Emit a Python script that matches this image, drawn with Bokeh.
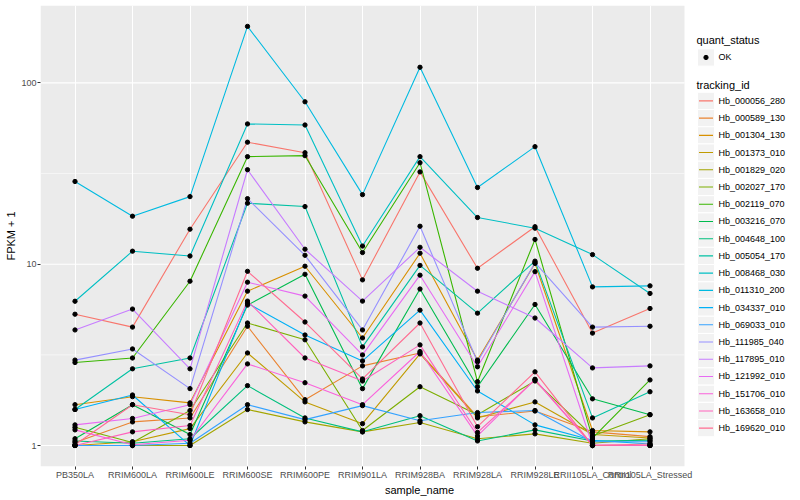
from bokeh.plotting import figure
from bokeh.models import Range1d, FixedTicker, NumeralTickFormatter, CustomJSTickFormatter, LinearScale
from bokeh.embed import file_html
from bokeh.resources import INLINE
from bokeh.core.properties import value

samples = ["PB350LA", "RRIM600LA", "RRIM600LE", "RRIM600SE", "RRIM600PE", "RRIM901LA",
           "RRIM928BA", "RRIM928LA", "RRIM928LE", "RRII105LA_Control", "RRII105LA_Stressed"]

tracking_ids = ["Hb_000056_280", "Hb_000589_130", "Hb_001304_130", "Hb_001373_010", "Hb_001829_020",
                "Hb_002027_170", "Hb_002119_070", "Hb_003216_070", "Hb_004648_100", "Hb_005054_170",
                "Hb_008468_030", "Hb_011310_200", "Hb_034337_010", "Hb_069033_010", "Hb_111985_040",
                "Hb_117895_010", "Hb_121992_010", "Hb_151706_010", "Hb_163658_010", "Hb_169620_010"]

# FPKM + 1 per sample (order of `samples`)
hb_000056_280 = [5.3, 4.5, 15.6, 47.1, 41.2, 8.2, 32.3, 9.5, 16.1, 4.17, 5.7]
hb_000589_130 = [1.04, 1.35, 1.42, 4.55, 1.79, 2.75, 3.24, 1.44, 1.55, 1.19, 1.12]
hb_001304_130 = [1.68, 1.86, 1.72, 7.1, 9.75, 3.92, 11.5, 2.96, 10.1, 1.21, 1.19]
hb_001373_010 = [1.0, 1.05, 1.24, 3.24, 1.74, 1.32, 3.2, 1.42, 1.74, 1.15, 1.1]
hb_001829_020 = [1.0, 1.0, 1.0, 1.58, 1.35, 1.19, 1.34, 1.09, 1.16, 1.03, 1.09]
hb_002027_170 = [1.26, 1.04, 1.56, 4.74, 3.83, 1.21, 2.11, 1.48, 2.27, 1.13, 1.48]
hb_002119_070 = [2.87, 3.04, 8.06, 39.2, 39.7, 11.6, 36.3, 2.25, 13.7, 1.1, 2.3]
hb_003216_070 = [1.09, 1.68, 1.15, 5.95, 8.8, 2.06, 7.3, 2.11, 6.0, 1.81, 1.48]
hb_004648_100 = [1.06, 1.03, 1.09, 2.14, 1.42, 1.19, 1.46, 1.06, 1.22, 1.06, 1.07]
hb_005054_170 = [1.58, 2.65, 3.04, 21.7, 20.8, 3.5, 9.85, 5.37, 10.4, 1.42, 1.98]
hb_008468_030 = [6.25, 11.8, 11.1, 59.4, 58.6, 12.6, 39.2, 18.1, 15.8, 11.3, 6.9]
hb_011310_200 = [28.6, 18.4, 23.6, 205.0, 78.7, 24.2, 122.0, 26.5, 44.5, 7.5, 7.6]
hb_034337_010 = [1.58, 1.9, 1.0, 6.1, 4.07, 2.93, 5.58, 2.0, 1.3, 1.07, 1.02]
hb_069033_010 = [1.0, 1.0, 1.03, 1.68, 1.39, 1.66, 1.37, 1.52, 1.56, 1.05, 1.05]
hb_111985_040 = [2.96, 3.41, 2.06, 23.0, 11.2, 4.34, 16.2, 2.9, 10.2, 4.5, 4.55]
hb_117895_010 = [4.34, 5.66, 2.65, 33.2, 12.1, 6.26, 12.4, 7.1, 5.05, 2.68, 2.75]
hb_121992_010 = [1.30, 1.41, 1.68, 7.96, 6.67, 3.16, 8.7, 2.72, 9.1, 1.0, 1.0]
hb_151706_010 = [1.22, 1.01, 1.07, 2.82, 2.22, 1.68, 3.3, 1.13, 2.32, 1.01, 1.0]
hb_163658_010 = [1.0, 1.19, 1.29, 6.26, 3.04, 2.27, 3.59, 1.18, 2.3, 1.0, 1.0]
hb_169620_010 = [1.01, 1.68, 1.48, 9.14, 4.8, 2.33, 4.74, 1.27, 2.55, 1.0, 1.02]

series = [hb_000056_280, hb_000589_130, hb_001304_130, hb_001373_010, hb_001829_020,
          hb_002027_170, hb_002119_070, hb_003216_070, hb_004648_100, hb_005054_170,
          hb_008468_030, hb_011310_200, hb_034337_010, hb_069033_010, hb_111985_040,
          hb_117895_010, hb_121992_010, hb_151706_010, hb_163658_010, hb_169620_010]

colors = ["#F8766D", "#EA8331", "#D89000", "#C09B00", "#A3A500", "#7CAE00", "#39B600",
          "#00BB4E", "#00BF7D", "#00C1A3", "#00BFC4", "#00BAE0", "#00B0F6", "#35A2FF",
          "#9590FF", "#C77CFF", "#E76BF3", "#FA62DB", "#FF62BC", "#FF6C91"]

y_ticks = [1, 10, 100]
y_minor = [10 ** 0.5, 10 ** 1.5]
status_labels = ["OK"]

FONT = "Liberation Sans"

W, H = 798, 498
L, T, B = 40, 5, 30          # frame borders
FRAME_W, FRAME_H = W - L, H - T - B
PX_PER_CAT = 57.5
x_pos = list(range(1, len(samples) + 1))
x_lo = 0.4
x_hi_panel = len(samples) + 0.6
x_end = x_lo + FRAME_W / PX_PER_CAT
y_lo, y_hi = 10 ** -0.1156, 10 ** 2.427

p = figure(width=W, height=H, x_range=Range1d(x_lo, x_end), y_range=Range1d(y_lo, y_hi),
           y_axis_type="log", output_backend="svg", toolbar_location=None,
           min_border_left=L, min_border_right=0, min_border_top=T, min_border_bottom=B)
p.title.visible = False
p.background_fill_color = "white"
p.border_fill_color = "white"
p.outline_line_color = None

# extra ranges in figure pixels, for the legend block
p.extra_x_ranges = {"legx": Range1d(L, W)}
p.extra_y_ranges = {"legy": Range1d(H - B, T)}
p.extra_x_scales = {"legx": LinearScale()}
p.extra_y_scales = {"legy": LinearScale()}

# panel background
p.quad(left=[x_lo], right=[x_hi_panel], bottom=[y_lo], top=[y_hi],
       fill_color="#EBEBEB", line_color=None, level="image")

# grid
p.xgrid.ticker = FixedTicker(ticks=x_pos)
p.xgrid.grid_line_color = "white"
p.xgrid.grid_line_width = 1.1
p.ygrid.visible = False
p.segment(x0=[x_lo] * len(y_ticks), x1=[x_hi_panel] * len(y_ticks), y0=y_ticks, y1=y_ticks,
          line_color="white", line_width=1.1, level="underlay")
p.segment(x0=[x_lo] * len(y_minor), x1=[x_hi_panel] * len(y_minor), y0=y_minor, y1=y_minor,
          line_color="white", line_width=0.55, level="underlay")

# axes
p.xaxis.ticker = FixedTicker(ticks=x_pos)
p.xaxis.formatter = CustomJSTickFormatter(args={"names": samples},
                                          code="return names[Math.round(tick) - 1] || '';")
p.xaxis.bounds = (x_lo, x_hi_panel)
p.yaxis.ticker = FixedTicker(ticks=y_ticks)
p.yaxis.formatter = NumeralTickFormatter(format="0")
for ax in (p.xaxis[0], p.yaxis[0]):
    ax.axis_line_color = None
    ax.major_tick_line_color = "#333333"
    ax.major_tick_out = 3
    ax.major_tick_in = 0
    ax.minor_tick_line_color = None
    ax.major_label_text_color = "#4D4D4D"
    ax.major_label_text_font_size = "9px"
    ax.major_label_text_font = FONT
    ax.axis_label_text_font = FONT
    ax.axis_label_text_font_size = "11px"
    ax.axis_label_text_font_style = "normal"
    ax.axis_label_text_color = "black"
    ax.major_label_standoff = 1
    ax.axis_label_standoff = 1
p.xaxis.major_label_standoff = 0
p.xaxis.axis_label = "sample_name"
p.yaxis.axis_label = "FPKM + 1"

# data
for vals, c in zip(series, colors):
    p.line(x=x_pos, y=vals, line_color=c, line_width=1.1)
all_x = [x for vals in series for x in x_pos]
all_y = [v for vals in series for v in vals]
p.scatter(x=all_x, y=all_y, size=4.3, color="black", marker="circle")

# legends (coordinates in figure pixels)
key_x0, key_x1 = 697, 714
title_x = 696
label_x = 718
kw = dict(x_range_name="legx", y_range_name="legy")

p.text(x=[title_x], y=[40], text=["quant_status"], text_font=value(FONT), text_font_size="11px",
       text_baseline="middle", text_align="left", text_color="black", **kw)
p.quad(left=[key_x0], right=[key_x1], top=[48.6], bottom=[65.9], fill_color="#F2F2F2",
       line_color="white", **kw)
p.scatter(x=[(key_x0 + key_x1) / 2], y=[57.2], size=4.3, color="black", **kw)
p.text(x=[label_x], y=[57.2], text=status_labels, text_font=value(FONT), text_font_size="9px",
       text_baseline="middle", text_align="left", text_color="black", **kw)

p.text(x=[title_x], y=[85], text=["tracking_id"], text_font=value(FONT), text_font_size="11px",
       text_baseline="middle", text_align="left", text_color="black", **kw)
ys = [100.8 + 17.3 * i for i in range(len(tracking_ids))]
p.quad(left=[key_x0] * len(ys), right=[key_x1] * len(ys),
       top=[y - 8.6 for y in ys], bottom=[y + 8.6 for y in ys],
       fill_color="#F2F2F2", line_color="white", **kw)
p.segment(x0=[key_x0 + 1.5] * len(ys), x1=[key_x1 - 1.5] * len(ys), y0=ys, y1=ys,
          line_color=colors, line_width=1.1, **kw)
p.text(x=[label_x] * len(ys), y=ys, text=tracking_ids, text_font=value(FONT), text_font_size="9px",
       text_baseline="middle", text_align="left", text_color="black", **kw)

open("out.html", "w").write(file_html(p, INLINE))
